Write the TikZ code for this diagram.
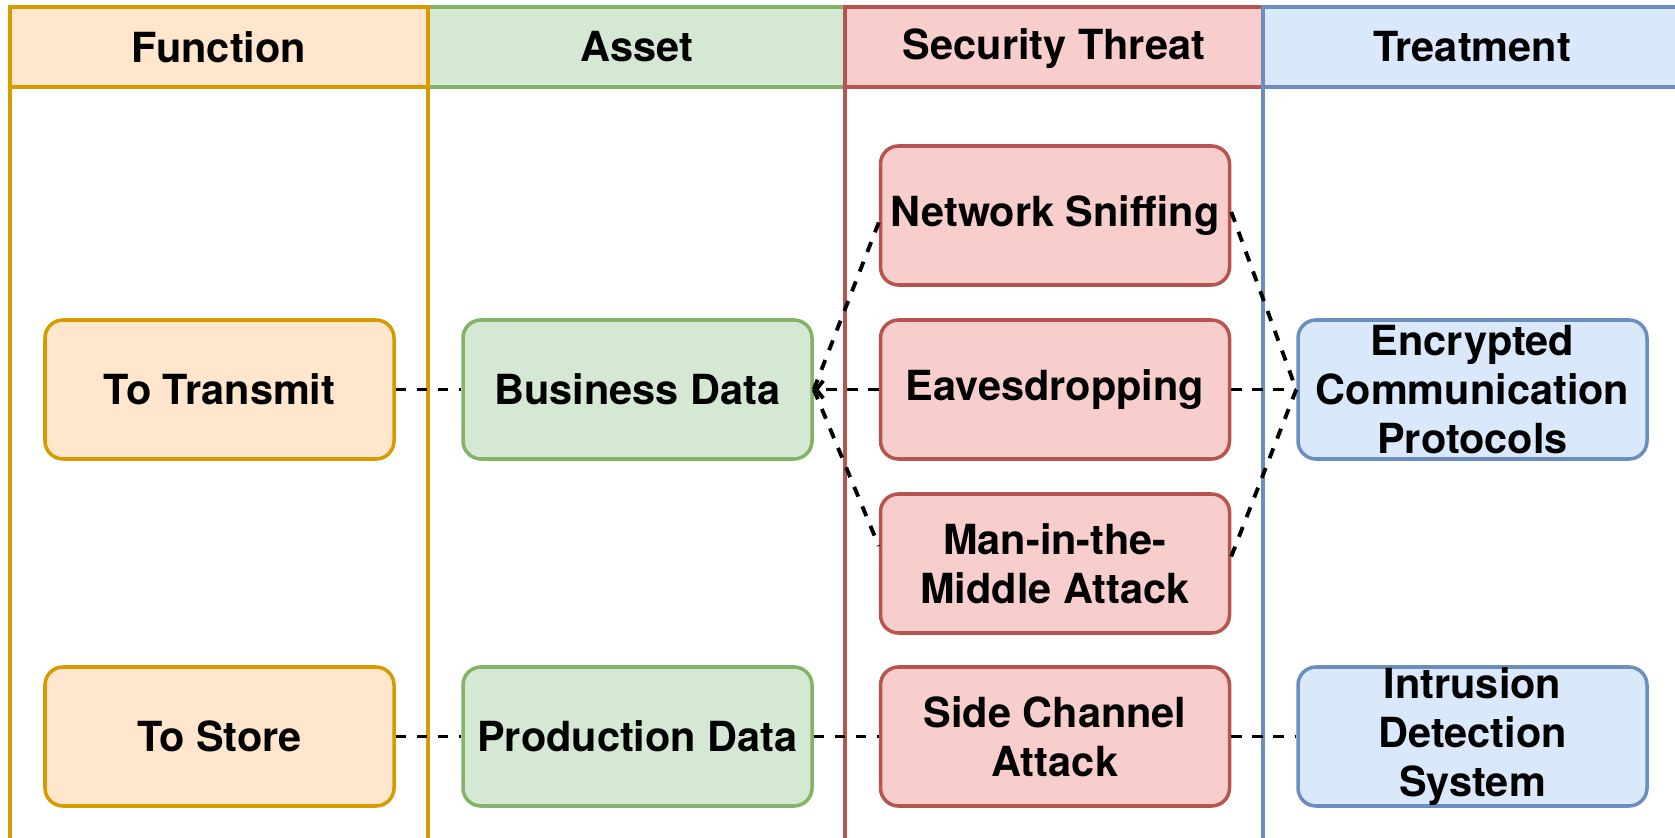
\documentclass[tikz,border=0pt]{standalone}
\usepackage{fontspec}
\setmainfont{TeX Gyre Heros}
\usepackage{tikz}
\usetikzlibrary{arrows.meta}
\usepackage{xcolor}

\definecolor{orangefill}{HTML}{FFE6CC}
\definecolor{orangeline}{HTML}{D79B00}
\definecolor{greenfill}{HTML}{D5E8D4}
\definecolor{greenline}{HTML}{82B366}
\definecolor{redfill}{HTML}{F8CECC}
\definecolor{redline}{HTML}{B85450}
\definecolor{bluefill}{HTML}{DAE8FC}
\definecolor{blueline}{HTML}{6C8EBF}

\begin{document}
\begin{tikzpicture}[
        font=\fontsize{11.8}{13.9}\selectfont\bfseries,
        lane/.style={line width=1pt},
        box/.style={draw, rounded corners=0.18cm, line width=1pt, minimum width=3.49cm, minimum height=1.39cm, align=center, inner sep=0pt},
        link/.style={draw=black, line width=1.1pt, dash pattern=on 3pt off 3pt}
    ]
        \fill[white] (0,0) rectangle (16.75,8.37);
        \useasboundingbox (0,0) rectangle (16.75,8.37);

        % Asset lane
        \draw[lane, draw=greenline, fill=greenfill] (4.28,7.50) rectangle (8.45,8.30);
        \draw[lane, draw=greenline] (4.28,-0.5) rectangle (8.45,7.50);
        \node (hasset) at (6.365,7.90) {Asset};

        % Function lane
        \draw[lane, draw=orangeline, fill=orangefill] (0.10,7.50) rectangle (4.28,8.30);
        \draw[lane, draw=orangeline] (0.10,-0.5) rectangle (4.28,7.50);
        \node (hfunc) at (2.19,7.90) {Function};

        % Security threat lane
        \draw[lane, draw=redline, fill=redfill] (8.45,7.50) rectangle (12.63,8.30);
        \draw[lane, draw=redline] (8.45,-0.5) rectangle (12.63,7.50);
        \node (hthreat) at (10.54,7.88) {Security Threat};

        % Treatment lane
        \draw[lane, draw=blueline, fill=bluefill] (12.63,7.50) rectangle (16.81,8.30);
        \draw[lane, draw=blueline] (12.63,-0.5) rectangle (16.81,7.50);
        \node (htreat) at (14.72,7.90) {Treatment};

        % Functions
        \node[box, draw=orangeline, fill=orangefill] (transmit) at (2.195,4.475) {To Transmit};
        \node[box, draw=orangeline, fill=orangefill] (store) at (2.195,1.005) {To Store};

        % Assets
        \node[box, draw=greenline, fill=greenfill] (business) at (6.375,4.475) {Business Data};
        \node[box, draw=greenline, fill=greenfill] (production) at (6.375,1.005) {Production Data};

        % Threats
        \node[box, draw=redline, fill=redfill] (sniff) at (10.55,6.215) {Network Sniffing};
        \node[box, draw=redline, fill=redfill] (eaves) at (10.55,4.475) {Eavesdropping};
        \node[box, draw=redline, fill=redfill] (mitm) at (10.55,2.735) {Man-in-the-\\Middle Attack};
        \node[box, draw=redline, fill=redfill] (side) at (10.55,1.005) {Side Channel\\Attack};

        % Treatments
        \node[box, draw=blueline, fill=bluefill] (crypt) at (14.725,4.475) {Encrypted\\Communication\\Protocols};
        \node[box, draw=blueline, fill=bluefill] (ids) at (14.725,1.005) {Intrusion\\Detection\\System};

        % Links
        \draw[link] (transmit.east) -- (business.west);
        \draw[link] (store.east) -- (production.west);
        \draw[link] (production.east) -- (side.west);
        \draw[link] (side.east) -- (ids.west);
        \draw[link, -{Straight Barb[length=2pt,width=5pt]}] (eaves.west) -- (business.east);
        \draw[link] (business.east) -- ([yshift=-2pt]sniff.west);
        \draw[link] (business.east) -- ([yshift=5pt]mitm.west);
        \draw[link] (eaves.east) -- (crypt.west);
        \draw[link] ([yshift=1pt]sniff.east) -- (crypt.west);
        \draw[link] ([yshift=2pt]mitm.east) -- (crypt.west);
    \end{tikzpicture}
\end{document}
